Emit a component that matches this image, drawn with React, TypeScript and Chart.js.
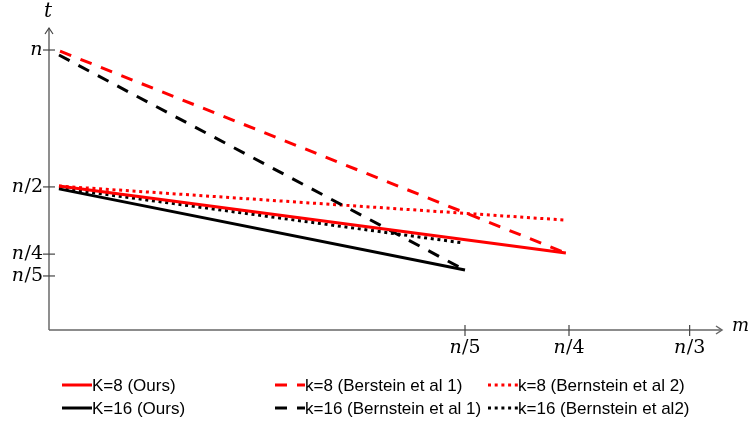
import React, { useEffect, useRef } from "react";
import { Chart, registerables } from "chart.js";

Chart.register(...registerables);

// ---- data (in units of n) ----
const k8OursX = [0.0048, 0.2485];
const k8OursY = [0.514, 0.275];
const k16OursX = [0.0048, 0.2];
const k16OursY = [0.504, 0.214];
const k8B1X = [0.0053, 0.2485];
const k8B1Y = [0.996, 0.275];
const k16B1X = [0.0048, 0.2];
const k16B1Y = [0.982, 0.214];
const k8B2X = [0.0048, 0.2475];
const k8B2Y = [0.514, 0.393];
const k16B2X = [0.0048, 0.199];
const k16B2Y = [0.507, 0.311];

const seriesLabels = [
  "K=8 (Ours)",
  "K=16 (Ours)",
  "k=8 (Berstein et al 1)",
  "k=16 (Bernstein et al 1)",
  "k=8 (Bernstein et al 2)",
  "k=16 (Bernstein et al2)",
];

const xTickValues = [0.2, 0.25, 0.308];
const xTickLabels = ["n/5", "n/4", "n/3"];
const yTickValues = [1, 0.511, 0.271, 0.193];
const yTickLabels = ["n", "n/2", "n/4", "n/5"];

const xAxisTitle = "m";
const yAxisTitle = "t";

const RED = "#ff0000";
const BLACK = "#000000";
const SOLID: number[] = [];
const DASH = [12, 10];
const DOT = [3, 3.7];

const toPts = (xs: number[], ys: number[]) => xs.map((x, i) => ({ x, y: ys[i] }));

const MATH_FONT = '"DejaVu Serif", "Liberation Serif", serif';
const MATH_SIZE = 19;

function mathWidth(ctx: CanvasRenderingContext2D, label: string, size: number) {
  const first = label.charAt(0);
  const rest = label.slice(1);
  ctx.font = `italic ${size}px ${MATH_FONT}`;
  let w = ctx.measureText(first).width + 0.5;
  ctx.font = `${size}px ${MATH_FONT}`;
  w += ctx.measureText(rest).width;
  return w;
}

function drawMath(ctx: CanvasRenderingContext2D, label: string, x: number, y: number, size: number) {
  const first = label.charAt(0);
  const rest = label.slice(1);
  ctx.textAlign = "left";
  ctx.textBaseline = "middle";
  ctx.font = `italic ${size}px ${MATH_FONT}`;
  ctx.fillText(first, x, y);
  const w = ctx.measureText(first).width + 0.5;
  ctx.font = `${size}px ${MATH_FONT}`;
  ctx.fillText(rest, x + w, y);
}

const decorPlugin = {
  id: "decor",
  beforeDatasetsDraw(chart: any) {
    const ctx: CanvasRenderingContext2D = chart.ctx;
    const xs = chart.scales.x;
    const ys = chart.scales.y;
    const { left, right, top, bottom } = chart.chartArea;
    ctx.save();
    // y axis
    ctx.strokeStyle = "#444";
    ctx.lineWidth = 1.2;
    ctx.beginPath();
    ctx.moveTo(left, bottom);
    ctx.lineTo(left, top);
    ctx.stroke();
    ctx.beginPath();
    ctx.moveTo(left - 4, top + 6);
    ctx.lineTo(left, top);
    ctx.lineTo(left + 4, top + 6);
    ctx.stroke();
    // x axis
    ctx.strokeStyle = "#666";
    ctx.lineWidth = 1.5;
    ctx.beginPath();
    ctx.moveTo(left, bottom);
    ctx.lineTo(right - 3, bottom);
    ctx.stroke();
    ctx.beginPath();
    ctx.moveTo(right - 9, bottom - 4);
    ctx.lineTo(right - 3, bottom);
    ctx.lineTo(right - 9, bottom + 4);
    ctx.stroke();

    // ticks
    ctx.strokeStyle = "#444";
    ctx.lineWidth = 1.2;
    ctx.fillStyle = "#000";
    yTickValues.forEach((v, i) => {
      const py = ys.getPixelForValue(v);
      ctx.beginPath();
      ctx.moveTo(left - 6, py);
      ctx.lineTo(left + 6, py);
      ctx.stroke();
      const lbl = yTickLabels[i];
      const w = mathWidth(ctx, lbl, MATH_SIZE);
      drawMath(ctx, lbl, left - 6 - w, py, MATH_SIZE);
    });
    xTickValues.forEach((v, i) => {
      const px = xs.getPixelForValue(v);
      ctx.beginPath();
      ctx.moveTo(px, bottom - 5);
      ctx.lineTo(px, bottom + 6);
      ctx.stroke();
      const lbl = xTickLabels[i];
      const w = mathWidth(ctx, lbl, MATH_SIZE);
      drawMath(ctx, lbl, px - w / 2, bottom + 18, MATH_SIZE);
    });

    // axis titles
    ctx.fillStyle = "#000";
    ctx.textBaseline = "middle";
    ctx.textAlign = "center";
    ctx.font = `italic 20px ${MATH_FONT}`;
    ctx.fillText(yAxisTitle, left - 1, 12);
    ctx.textAlign = "left";
    ctx.font = `italic 18px ${MATH_FONT}`;
    ctx.fillText(xAxisTitle, right + 7, bottom - 4);
    ctx.restore();
  },
  afterDraw(chart: any) {
    const ctx: CanvasRenderingContext2D = chart.ctx;
    const colX = [62, 275, 488];
    const rowY = [385, 408];
    ctx.save();
    chart.data.datasets.forEach((ds: any, i: number) => {
      const col = Math.floor(i / 2);
      const row = i % 2;
      const x = colX[col];
      const y = rowY[row];
      ctx.strokeStyle = ds.borderColor;
      ctx.lineWidth = ds.borderWidth;
      ctx.setLineDash(ds.borderDash || []);
      ctx.beginPath();
      ctx.moveTo(x, y);
      ctx.lineTo(x + 30, y);
      ctx.stroke();
      ctx.setLineDash([]);
      ctx.fillStyle = "#000";
      ctx.font = '17px "Liberation Sans", Arial, sans-serif';
      ctx.textAlign = "left";
      ctx.textBaseline = "middle";
      ctx.fillText(ds.label, x + 30, y + 1);
    });
    ctx.restore();
  },
};

export default function App() {
  const ref = useRef<HTMLCanvasElement | null>(null);
  useEffect(() => {
    if (!ref.current) return;
    const mk = (label: string, xs: number[], ys: number[], color: string, dash: number[]) => ({
      label,
      data: toPts(xs, ys),
      borderColor: color,
      backgroundColor: color,
      borderWidth: 3,
      borderDash: dash,
      pointRadius: 0,
      fill: false,
      tension: 0,
      clip: false as any,
    });
    const chart = new Chart(ref.current, {
      type: "line",
      data: {
        datasets: [
          mk(seriesLabels[0], k8OursX, k8OursY, RED, SOLID),
          mk(seriesLabels[1], k16OursX, k16OursY, BLACK, SOLID),
          mk(seriesLabels[2], k8B1X, k8B1Y, RED, DASH),
          mk(seriesLabels[3], k16B1X, k16B1Y, BLACK, DASH),
          mk(seriesLabels[4], k8B2X, k8B2Y, RED, DOT),
          mk(seriesLabels[5], k16B2X, k16B2Y, BLACK, DOT),
        ],
      },
      options: {
        animation: false,
        responsive: false,
        layout: { padding: { left: 49, right: 26, top: 28, bottom: 92 } },
        scales: {
          x: { type: "linear", min: 0, max: 0.325, display: false },
          y: { type: "linear", min: 0, max: 1.0786, display: false },
        },
        plugins: { legend: { display: false }, tooltip: { enabled: false } },
      },
      plugins: [decorPlugin],
    });
    return () => chart.destroy();
  }, []);
  return (
    <div style={{ position: "absolute", left: 0, top: 0, width: 751, height: 422, background: "#fff" }}>
      <canvas ref={ref} width={751} height={422} />
    </div>
  );
}
